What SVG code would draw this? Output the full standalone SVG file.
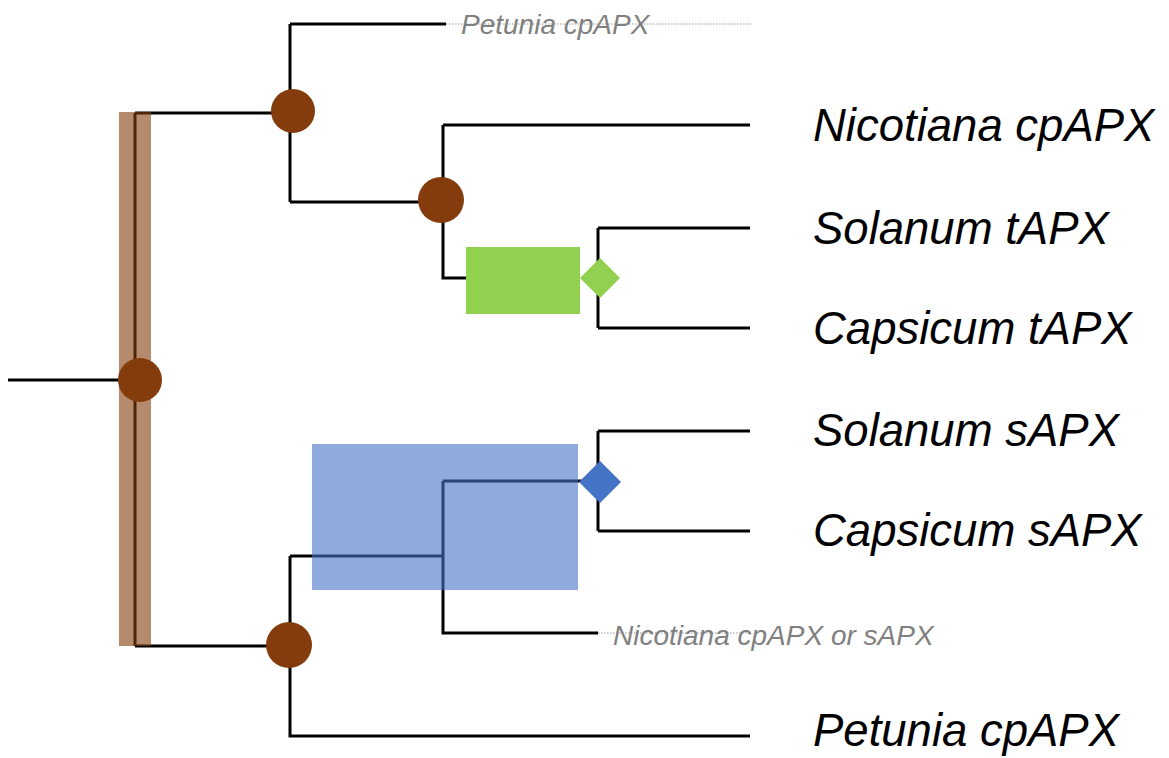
<svg xmlns="http://www.w3.org/2000/svg" width="1169" height="758" viewBox="0 0 1169 758">
<style>
.ln{stroke:#000;stroke-width:3;fill:none;stroke-linejoin:miter}
.dot{stroke:#999;stroke-width:1;stroke-dasharray:1.5 1.5;fill:none}
.big{font-family:"Liberation Sans",Arial,sans-serif;font-style:italic;font-size:45.5px;fill:#000}
.small{font-family:"Liberation Sans",Arial,sans-serif;font-style:italic;font-size:28px;fill:#808080}
.node{fill:#843C0C}
</style>
<rect width="1169" height="758" fill="#fff"/>
<g id="connectors">
<path class="ln" d="M8 380H135M135 113V646M135 113H290M290 24V202M290 24H446M290 202H443M443 125V278H466M443 125H750M598 228V328M598 228H750M598 328H750M135 646H290M290 556V736H750M290 556H443M443 481V633H598M443 481H598M598 431V531M598 431H750M598 531H750"/>
<path class="dot" d="M446 24H752M598 633H750"/>
</g>
<g id="legend-bar"><rect x="119" y="112" width="32" height="534" fill="#843C0C" fill-opacity="0.6"/></g>
<g id="green-box"><rect x="466" y="247" width="114" height="67" fill="#92D050"/><polygon points="600,258 620,278 600,298 580,278" fill="#92D050"/></g>
<g id="blue-box"><rect x="312" y="444" width="266" height="146" fill="#4472C4" fill-opacity="0.6"/><polygon points="600,461 621,482 600,503 579,482" fill="#4472C4"/></g>
<g id="n-root"><circle class="node" cx="140" cy="380" r="22"/></g>
<g id="n-top"><circle class="node" cx="293" cy="111" r="22"/></g>
<g id="n-mid"><circle class="node" cx="441" cy="200" r="23"/></g>
<g id="n-bot"><circle class="node" cx="289" cy="645" r="23"/></g>
<g id="labels">
<text class="small" x="461" y="34">Petunia cpAPX</text>
<text class="big" x="813" y="141">Nicotiana cpAPX</text>
<text class="big" x="813" y="244">Solanum tAPX</text>
<text class="big" x="813" y="344">Capsicum tAPX</text>
<text class="big" x="813" y="446">Solanum sAPX</text>
<text class="big" x="813" y="546">Capsicum sAPX</text>
<text class="small" x="613" y="645">Nicotiana cpAPX or sAPX</text>
<text class="big" x="813" y="746">Petunia cpAPX</text>
</g>
</svg>
